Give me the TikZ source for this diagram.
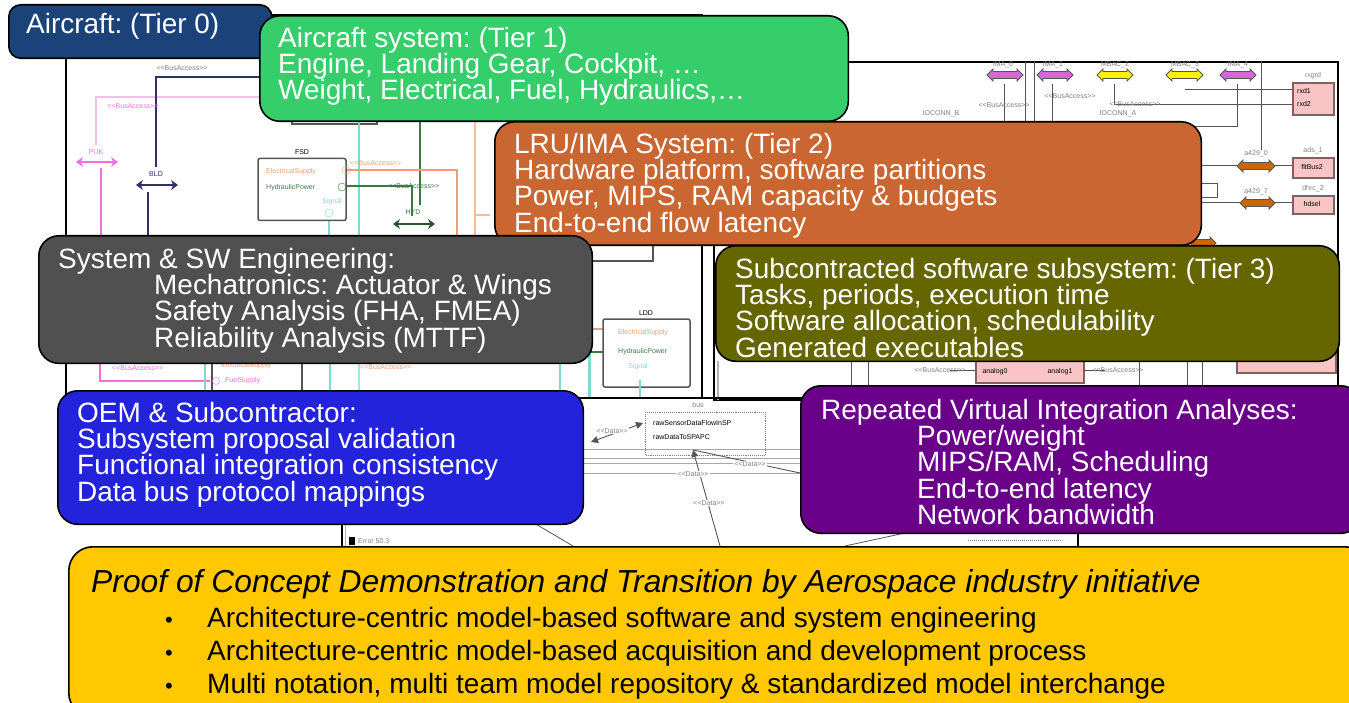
\documentclass[tikz,border=0pt]{standalone}
\usepackage{fontspec}
\setmainfont{Liberation Sans}
\usetikzlibrary{arrows.meta}
\definecolor{cAir}{HTML}{1B4279}
\definecolor{cSys}{HTML}{36CE6A}
\definecolor{cLru}{HTML}{C96632}
\definecolor{cEng}{HTML}{505050}
\definecolor{cSub}{HTML}{666600}
\definecolor{cOem}{HTML}{2323DC}
\definecolor{cRep}{HTML}{6A008A}
\definecolor{cPoc}{HTML}{FFC800}
\definecolor{bMag}{HTML}{F070E0}
\definecolor{bPale}{HTML}{EFC0E8}
\definecolor{bNavy}{HTML}{30306A}
\definecolor{bGreen}{HTML}{3A7A45}
\definecolor{bCyan}{HTML}{80D8D0}
\definecolor{bOrange}{HTML}{F0A070}
\definecolor{bGrey}{HTML}{555555}
\definecolor{bPink}{HTML}{F8C4C4}
\definecolor{bFrame}{HTML}{806060}
\tikzset{
  x=1pt,y=-1pt,
  panel/.style={draw=black,line width=1.6pt,rounded corners=20pt},
  ptext/.style={anchor=north west,inner sep=0pt,text=white,align=left,
    font=\fontsize{27.950}{26.300}\selectfont},
  frame/.style={draw=black,line width=1.4pt},
  wire/.style={line width=1.1pt},
  tiny/.style={inner sep=0pt,font=\fontsize{7}{8}\selectfont},
  dbl/.style={{Stealth[length=7pt,width=10pt]}-{Stealth[length=7pt,width=10pt]},line width=2.4pt},
  comp/.style={draw=bGrey,line width=1.5pt,rounded corners=2pt,fill=white},
  lru/.style={draw=bFrame,line width=1.8pt,fill=bPink}
}
\newcommand{\fat}[4]{% x1 x2 y colour
  \path[fill=#4,draw=bGrey,line width=.8pt] (#1,#3) -- (#1+6,#3-6) -- (#1+6,#3-3.5) -- (#2-6,#3-3.5)
    -- (#2-6,#3-6) -- (#2,#3) -- (#2-6,#3+6) -- (#2-6,#3+3.5) -- (#1+6,#3+3.5) -- (#1+6,#3+6) -- cycle;}
\begin{document}
\begin{tikzpicture}
\frenchspacing
\clip (0,0) rectangle (1349,703);
\fill[white] (0,0) rectangle (1349,703);

% --- left background diagram
\draw[frame] (66,15) rectangle (702,398);
\draw[bPale,line width=1.8pt] (96,145) -- (96,97) -- (270,97);
\draw[bNavy,wire] (156,167) -- (156,77) -- (270,77);
\draw[bMag,line width=2pt] (101,168) -- (101,240);
\draw[bNavy,wire] (148,192) -- (148,240);
\draw[bMag,dbl] (76,162) -- (118,162);
\draw[bNavy,dbl] (136,185) -- (178,185);
\node[tiny,text=bMag] (puk) at (96,152) {PUK};
\node[tiny,text=bNavy] (bld) at (156,174) {BLD};
\node[tiny,text=gray] (lbl1) at (182,68) {<{}<BusAccess>{}>};
\node[tiny,text=bMag] (lbl2) at (133,106) {<{}<BusAccess>{}>};

\draw[bGrey,line width=1.4pt] (292,110) -- (292,124) -- (377,124) -- (377,110);
\draw[bCyan,line width=2pt] (359,120) -- (359,240);
\draw[bGreen,wire] (420,120) -- (420,205);
\draw[bOrange!70,line width=1.4pt] (475,120) -- (475,240);
\draw[bOrange,wire] (346,170) -- (457,170) -- (457,240);
\draw[bGreen,wire] (340,186) -- (412,186) -- (412,216);
\draw[bCyan,line width=2pt] (329,212) -- (329,240);
\draw[bOrange!70,wire] (475,215) -- (490,215);
\node[comp,minimum width=88pt,minimum height=62pt] (fsd) at (302,189.500) {};
\node[tiny,text=black] (fsdl) at (302,152) {FSD};
\node[tiny,text=bOrange,anchor=west] (fsd1) at (266,172) {ElectricalSupply};
\node[tiny,text=bGreen,anchor=west] (fsd2) at (266,188) {HydraulicPower};
\node[tiny,text=bCyan,anchor=east] (fsd3) at (342,202) {Signal};
\draw[bOrange] (346,170) circle (4pt);
\draw[bGreen] (342,187) circle (4pt);
\draw[bCyan] (329,213) circle (4pt);
\draw[bGreen!70!black,dbl] (393,224) -- (435,224);
\node[tiny,text=bGreen] (hyd) at (413,212) {HYD};
\node[tiny,text=bOrange,anchor=west] (lbl3) at (350,163) {<{}<BusAccess>{}>};
\node[tiny,text=bGreen,anchor=west] (lbl4) at (388,186) {<{}<BusAccess>{}>};

% under the grey panel
\draw[bMag,line width=1.4pt] (100,360) -- (100,381) -- (210,381);
\node[tiny,text=bMag,anchor=west] (lbl5) at (112,368) {<{}<BusAccess>{}>};
\draw[bCyan,line width=2pt] (205,360) -- (205,398);
\draw[bGrey,line width=1.2pt] (212,360) -- (212,398);
\draw[bGrey,line width=1.2pt] (302,360) -- (302,398);
\draw[bMag] (216,381) circle (3.5pt);
\node[tiny,text=bMag,anchor=west] (fuel) at (225,381) {FuelSupply};
\node[tiny,text=bOrange,anchor=west] (es2) at (221,366) {ElectricalSupply};
\node[tiny,text=bOrange,anchor=west] (lbl6) at (360,367) {<{}<BusAccess>{}>};
\draw[bCyan,line width=2pt] (330,360) -- (330,398);
\draw[bCyan!70,line width=1.4pt] (359,360) -- (359,398);
\draw[bCyan,line width=1.4pt] (560,360) -- (560,398);
\draw[bCyan,line width=1.4pt] (589,350) -- (589,398);

% LDD component
\draw[bGrey,line width=1.4pt] (590,261) -- (653,261) -- (653,245);
\draw[bOrange,wire] (590,329) -- (606,329);
\draw[bGreen,wire] (590,352) -- (606,352);
\draw[bCyan,line width=2pt] (590,353) -- (590,398);
\node[comp,minimum width=87pt,minimum height=68pt] (ldd) at (646.500,353) {};
\node[tiny,text=black] (lddl) at (646,313) {LDD};
\node[tiny,text=bOrange,anchor=west] (ldd1) at (618,333) {ElectricalSupply};
\node[tiny,text=bGreen,anchor=west] (ldd2) at (618,352) {HydraulicPower};
\node[tiny,text=bCyan] (ldd3) at (638,367) {Signal};
\draw[bCyan,line width=1.4pt] (640,380) -- (640,398);

% --- right background diagram
\draw[frame] (714,62) rectangle (1338,400);
\draw[gray!60,line width=1.2pt] (718,361) -- (718,400);
\foreach \vx in {851,868,1139,1187,1202}{\draw[bGrey,line width=1pt] (\vx,361) -- (\vx,400);}
\foreach \vx in {1025,1034,1261}{\draw[bGrey,line width=1pt] (\vx,62) -- (\vx,150);}
\draw[bGrey,line width=1pt] (1004,84) -- (1004,122);
\draw[bGrey,line width=1pt] (1052,84) -- (1052,122);
\draw[bGrey,line width=1pt] (1114,84) -- (1114,105) -- (1292,105);
\draw[bGrey,line width=1pt] (1185,90) -- (1292,90);
\draw[bGrey,line width=1pt] (1237,84) -- (1237,127) -- (1195,127);
\draw[bGrey,line width=1pt] (1200,166) -- (1292,166);
\draw[bGrey,line width=1pt] (1200,203) -- (1292,203);
\draw[bGrey,line width=1pt] (1200,184) -- (1217,184) -- (1217,198) -- (1200,198);
\fat{987}{1023}{75}{violet!50!magenta!60}
\fat{1037}{1073}{75}{violet!50!magenta!60}
\fat{1097}{1133}{75}{yellow}
\fat{1166}{1203}{75}{yellow}
\fat{1220}{1256}{75}{violet!50!magenta!60}
\fat{1237}{1275}{166}{orange!80!black}
\fat{1240}{1275}{203}{orange!80!black}
\fat{1190}{1216}{243}{orange!80!black}
\node[lru,anchor=north west,minimum width=41pt,minimum height=32pt,inner sep=0pt] (r1) at (1292,82) {};
\node[lru,anchor=north west,minimum width=41pt,minimum height=20pt,inner sep=0pt] (r2) at (1292,157) {};
\node[lru,anchor=north west,minimum width=41pt,minimum height=18pt,inner sep=0pt] (r3) at (1292,195) {};
\node[tiny,anchor=west] (r1a) at (1297,91) {rxd1};
\node[tiny,anchor=west] (r1b) at (1297,104) {rxd2};
\node[tiny] (r2a) at (1312,167) {fltBus2};
\node[tiny] (r3a) at (1312,204) {hdsel};
\node[tiny,text=gray] (l1) at (1003,65) {IMA\_0};
\node[tiny,text=gray] (l2) at (1053,65) {IMA\_1};
\node[tiny,text=gray] (l3) at (1115,65) {MBAC\_2};
\node[tiny,text=gray] (l4) at (1185,65) {MBAC\_3};
\node[tiny,text=gray] (l5) at (1238,65) {IMA\_4};
\node[tiny,text=gray] (l6) at (1313,76) {rxgrd};
\node[tiny,text=gray] (l7) at (1313,151) {ads\_1};
\node[tiny,text=gray] (l8) at (1313,189) {dhrc\_2};
\node[tiny,text=gray] (l9) at (1256,154) {a429\_0};
\node[tiny,text=gray] (l10) at (1256,192) {a429\_7};
\node[tiny,text=gray] (l11) at (1070,96) {<{}<BusAccess>{}>};
\node[tiny,text=gray] (l12) at (1004,105) {<{}<BusAccess>{}>};
\node[tiny,text=gray] (l13) at (1135,104) {<{}<BusAccess>{}>};
\node[tiny,text=gray] (l15) at (941,114) {IOCONN\_B};
\node[tiny,text=gray] (l16) at (1118,114) {IOCONN\_A};
\node[lru,anchor=north west,minimum width=108pt,minimum height=30pt,inner sep=0pt] (r4) at (975,352) {};
\node[tiny] (a0) at (995,372) {analog0};
\node[tiny] (a1) at (1060,372) {analog1};
\draw[bGrey,line width=1pt] (950,370) -- (975,370);
\draw[bGrey,line width=1pt] (1083,370) -- (1105,370);
\node[tiny,text=gray] (bal) at (940,370) {<{}<BusAccess>{}>};
\node[tiny,text=gray] (bar) at (1118,370) {<{}<BusAccess>{}>};
\node[lru,anchor=north west,minimum width=99pt,minimum height=22pt,inner sep=0pt] (r5) at (1236,350) {};

% --- bottom background diagram
\draw[frame] (342,398) rectangle (1078,560);
\draw[gray!60,line width=1pt] (345,520) -- (345,546);
\foreach \hy in {449,458,463,473}{\draw[gray!70,line width=.8pt] (583,\hy) -- (800,\hy);}
\draw[gray,densely dotted,line width=.9pt] (645,412) rectangle (765,455);
\node[tiny,anchor=west] (d1) at (653,423) {rawSensorDataFlowInSP};
\node[tiny,anchor=west] (d2) at (653,437) {rawDataToSPAPC};
\coordinate (t1) at (643,423);
\coordinate (t2) at (591,442);
\coordinate (t3) at (693,450);
\draw[bGrey,line width=.9pt,{Triangle[length=7pt,width=7pt]}-{Triangle[length=7pt,width=7pt]}] (t1) -- (t2);
\node[tiny,text=gray,fill=white,inner sep=1pt] (c1) at (612,431) {<{}<Data>{}>};
\draw[bGrey,line width=.9pt,{Triangle[length=7pt,width=7pt]}-] (t3) -- (720,546);
\draw[bGrey,line width=.9pt] (t3) -- (800,473);
\node[tiny,text=gray,fill=white,inner sep=1pt] (c2) at (693,474) {<{}<Data>{}>};
\node[tiny,text=gray,fill=white,inner sep=1pt] (c3) at (709,503) {<{}<Data>{}>};
\node[tiny,text=gray,fill=white,inner sep=1pt] (c4) at (750,464) {<{}<Data>{}>};
\node[tiny,text=gray] (c5) at (698,405) {bus};
\draw[bGrey,line width=.8pt] (534,523) -- (573,546);
\draw[bGrey,line width=.8pt] (845,546) -- (905,533);
\draw[gray,densely dotted,line width=1pt] (968,540) -- (1062,540);
\fill[black] (349,537) rectangle (355,545);
\node[tiny,text=gray,anchor=west] (c6) at (358,541) {Error 50.3};

% --- panels
\node[panel,fill=cAir,anchor=north west,minimum width=263pt,minimum height=53.500pt,inner sep=0pt,rounded corners=12pt] (air) at (8,4) {};
\node[ptext] (airT) at (26,13.500) {Aircraft: (Tier 0)};

\node[panel,fill=cSys,anchor=north west,minimum width=588.500pt,minimum height=105.500pt,inner sep=0pt] (sys) at (259,15) {};
\node[ptext] (sysT) at (278,26.700) {Aircraft system: (Tier 1)\\Engine, Landing Gear, Cockpit, …\\Weight, Electrical, Fuel, Hydraulics,…};

\node[panel,fill=cLru,anchor=north west,minimum width=706.500pt,minimum height=123.500pt,inner sep=0pt] (lrub) at (494,121) {};
\node[ptext] (lruT) at (514,132.700) {LRU/IMA System: (Tier 2)\\Hardware platform, software partitions\\Power, MIPS, RAM capacity \& budgets\\End-to-end flow latency};

\node[panel,fill=cSub,anchor=north west,minimum width=623.500pt,minimum height=115.500pt,inner sep=0pt] (subp) at (715,245) {};
\node[ptext] (subT) at (735,257.700) {Subcontracted software subsystem: (Tier 3)\\Tasks, periods, execution time\\Software allocation, schedulability\\Generated executables};

\node[panel,fill=cEng,anchor=north west,minimum width=553.500pt,minimum height=127.500pt,inner sep=0pt] (eng) at (38,235) {};
\node[ptext] (engT) at (58,247.700) {System \& SW Engineering:\\\hspace*{96pt}Mechatronics: Actuator \& Wings\\\hspace*{96pt}Safety Analysis (FHA, FMEA)\\\hspace*{96pt}Reliability Analysis (MTTF)};

\node[panel,fill=cOem,anchor=north west,minimum width=525.500pt,minimum height=133.500pt,inner sep=0pt] (oem) at (57,390) {};
\node[ptext] (oemT) at (77,401.700) {OEM \& Subcontractor:\\Subsystem proposal validation\\Functional integration consistency\\Data bus protocol mappings};

\node[panel,fill=cRep,anchor=north west,minimum width=560pt,minimum height=147.500pt,inner sep=0pt] (rep) at (800,385) {};
\node[ptext] (repT) at (821,398.700) {Repeated Virtual Integration Analyses:\\\hspace*{96pt}Power/weight\\\hspace*{96pt}MIPS/RAM, Scheduling\\\hspace*{96pt}End-to-end latency\\\hspace*{96pt}Network bandwidth};

\node[panel,fill=cPoc,anchor=north west,minimum width=1300pt,minimum height=170pt,inner sep=0pt,rounded corners=24pt] (poc) at (68,546) {};
\node[ptext,text=black,font=\fontsize{31.800}{34}\itshape] (pocH) at (91,569) {Proof of Concept Demonstration and Transition by Aerospace industry initiative};
\node[ptext,text=black,font=\fontsize{28}{33.200}\selectfont] (pocT) at (165,607) {\makebox[42pt][l]{\fontsize{22}{26}\selectfont•}Architecture-centric model-based software and system engineering\\\makebox[42pt][l]{\fontsize{22}{26}\selectfont•}Architecture-centric model-based acquisition and development process\\\makebox[42pt][l]{\fontsize{22}{26}\selectfont•}Multi notation, multi team model repository \& standardized model interchange};
\end{tikzpicture}
\end{document}
